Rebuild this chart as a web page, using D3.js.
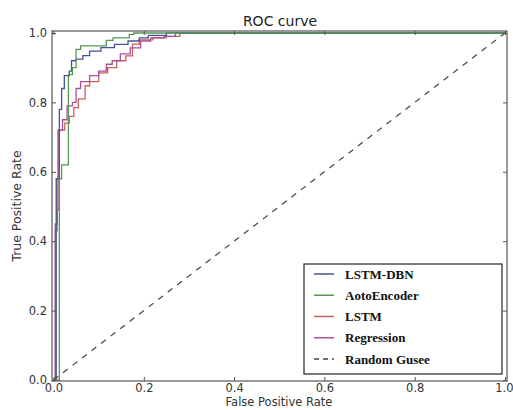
<!DOCTYPE html>
<html><head><meta charset="utf-8">
<script src="https://cdn.jsdelivr.net/npm/d3@7"></script>
<style>body{margin:0;background:#fff}svg{display:block}</style>
</head><body>
<svg id="c" width="513" height="410"></svg>
<script>
// Data (fpr, tpr) step vertices
const seriesNames = ["LSTM-DBN", "AotoEncoder", "LSTM", "Regression"];
const lstmDbnFpr = [0, 0.006, 0.013, 0.018, 0.024, 0.035, 0.04, 0.05, 0.065, 0.08, 0.105, 0.135, 0.165, 0.19, 0.21, 0.25, 1];
const lstmDbnTpr = [0, 0.58, 0.78, 0.84, 0.877, 0.89, 0.92, 0.925, 0.935, 0.948, 0.958, 0.967, 0.977, 0.986, 0.993, 1.0, 1.0];
const autoEncFpr = [0, 0.013, 0.018, 0.033, 0.042, 0.05, 0.06, 0.117, 0.132, 0.168, 0.178, 1];
const autoEncTpr = [0, 0.58, 0.62, 0.88, 0.9, 0.953, 0.963, 0.979, 0.986, 0.996, 1.0, 1.0];
const lstmFpr = [0, 0.004, 0.008, 0.012, 0.025, 0.035, 0.045, 0.055, 0.07, 0.08, 0.1, 0.12, 0.14, 0.16, 0.175, 0.19, 0.22, 0.25, 0.28, 1];
const lstmTpr = [0, 0.43, 0.49, 0.72, 0.74, 0.76, 0.785, 0.81, 0.848, 0.86, 0.885, 0.9, 0.92, 0.934, 0.968, 0.98, 0.986, 0.99, 1.0, 1.0];
const regFpr = [0, 0.004, 0.008, 0.01, 0.02, 0.03, 0.042, 0.05, 0.06, 0.08, 0.1, 0.117, 0.13, 0.148, 0.17, 0.193, 0.215, 0.245, 0.27, 1];
const regTpr = [0, 0.45, 0.58, 0.72, 0.75, 0.79, 0.8, 0.84, 0.86, 0.877, 0.89, 0.91, 0.92, 0.94, 0.957, 0.977, 0.986, 0.99, 1.0, 1.0];
const randomFpr = [0, 1];
const randomTpr = [0, 1];
const xTicks = [0.0, 0.2, 0.4, 0.6, 0.8, 1.0];
const yTicks = [0.0, 0.2, 0.4, 0.6, 0.8, 1.0];
const legendLabels = ["LSTM-DBN", "AotoEncoder", "LSTM", "Regression", "Random Gusee"];

const colors = ["#45519a", "#529a52", "#cc5f58", "#ad4f9b", "#444"];

const svg = d3.select("#c");
const L = 52, R = 507, T = 31, B = 381;
const x = d3.scaleLinear().domain([0, 1]).range([53.5, 505]);
const y = d3.scaleLinear().domain([0, 1]).range([380, 33]);

svg.append("rect").attr("width", 513).attr("height", 410).attr("fill", "#fff");

const series = [
  [lstmDbnFpr, lstmDbnTpr],
  [autoEncFpr, autoEncTpr],
  [lstmFpr, lstmTpr],
  [regFpr, regTpr]
];
const line = d3.line().x(d => x(d[0])).y(d => y(d[1])).curve(d3.curveStepAfter);
const drawOrder = [2, 3, 0, 1];
drawOrder.forEach(i => {
  const pts = series[i][0].map((v, k) => [v, series[i][1][k]]);
  svg.append("path").attr("d", line(pts)).attr("fill", "none")
    .attr("stroke", colors[i]).attr("stroke-width", 1.3);
});

// random line
svg.append("path")
  .attr("d", d3.line().x(d => x(d[0])).y(d => y(d[1]))(randomFpr.map((v, k) => [v, randomTpr[k]])))
  .attr("fill", "none").attr("stroke", colors[4]).attr("stroke-width", 1.2)
  .attr("stroke-dasharray", "6,6");

// frame
svg.append("rect").attr("x", L).attr("y", T).attr("width", R - L).attr("height", B - T)
  .attr("fill", "none").attr("stroke", "#555").attr("stroke-width", 1.2);

// axes with inward ticks
const gx = svg.append("g").attr("transform", `translate(0,${B})`)
  .call(d3.axisBottom(x).tickValues(xTicks).tickFormat(d3.format(".1f")).tickSizeInner(-4).tickSizeOuter(0).tickPadding(3));
const gxt = svg.append("g").attr("transform", `translate(0,${T})`)
  .call(d3.axisTop(x).tickValues(xTicks).tickFormat("").tickSizeInner(-4).tickSizeOuter(0));
const gy = svg.append("g").attr("transform", `translate(${L},0)`)
  .call(d3.axisLeft(y).tickValues(yTicks).tickFormat(d3.format(".1f")).tickSizeInner(-4).tickSizeOuter(0).tickPadding(5));
const gyr = svg.append("g").attr("transform", `translate(${R},0)`)
  .call(d3.axisRight(y).tickValues(yTicks).tickFormat("").tickSizeInner(-4).tickSizeOuter(0));
[gx, gxt, gy, gyr].forEach(g => {
  g.select(".domain").remove();
  g.selectAll("line").attr("stroke", "#555");
  g.selectAll("text").attr("font-family", "DejaVu Sans").attr("font-size", 11.5).attr("fill", "#333");
});
// keep the last x tick label inside the window
gx.selectAll("text").filter(d => d === 1).attr("text-anchor", "end").attr("dx", 8);

// titles
svg.append("text").attr("x", 280).attr("y", 26).attr("text-anchor", "middle")
  .attr("font-family", "DejaVu Sans").attr("font-size", 14).attr("fill", "#222").text("ROC curve");
svg.append("text").attr("x", 279).attr("y", 406).attr("text-anchor", "middle")
  .attr("font-family", "DejaVu Sans").attr("font-size", 11.5).attr("fill", "#333").text("False Positive Rate");
svg.append("text").attr("transform", "translate(21,206) rotate(-90)").attr("text-anchor", "middle")
  .attr("font-family", "DejaVu Sans").attr("font-size", 12.5).attr("fill", "#333").text("True Positive Rate");

// legend
const lg = svg.append("g");
lg.append("rect").attr("x", 304).attr("y", 264).attr("width", 198).attr("height", 110)
  .attr("fill", "#fff").attr("stroke", "#222").attr("stroke-width", 1.2);
const ly = d3.scalePoint().domain(legendLabels).range([274, 359]);
legendLabels.forEach((lab, i) => {
  const yy = ly(lab);
  lg.append("line").attr("x1", 314).attr("x2", 334).attr("y1", yy).attr("y2", yy)
    .attr("stroke", colors[i]).attr("stroke-width", 1.5)
    .attr("stroke-dasharray", i === 4 ? "5,4" : null);
  lg.append("text").attr("x", 345).attr("y", yy + 4.5)
    .attr("font-family", "Liberation Serif").attr("font-weight", "bold").attr("font-size", 13)
    .attr("fill", "#111").text(lab);
});
</script>
</body></html>
